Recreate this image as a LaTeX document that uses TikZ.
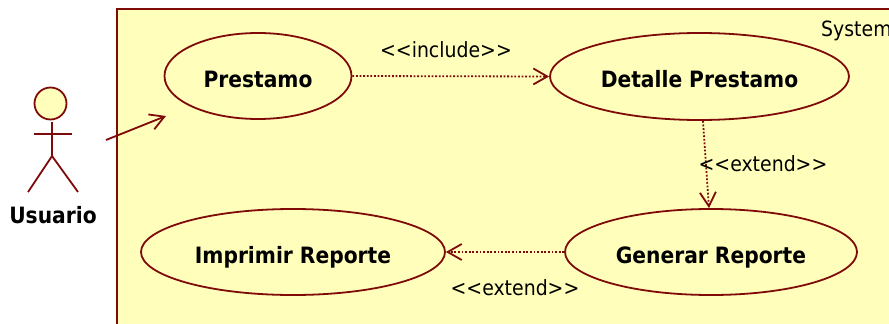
\documentclass[tikz,border=0pt]{standalone}
\usepackage{fontspec}
\setmainfont[Ligatures=NoCommon]{DejaVu Sans Condensed}
\usepackage{tikz}
\usetikzlibrary{arrows.meta,shapes.geometric}

\definecolor{umlred}{HTML}{7F0A0A}
\definecolor{umlfill}{HTML}{FFFFBB}

\tikzset{
    usecase/.style={ellipse, draw=umlred, fill=umlfill, line width=1.8pt, inner sep=0pt, text height=26pt, text depth=4pt, font=\fontsize{22.5}{24}\selectfont\bfseries},
    stereo/.style={font=\fontsize{21}{24}\selectfont, inner sep=0pt},
    actorline/.style={draw=umlred, line width=1.8pt},
    assoc/.style={draw=umlred, line width=1.8pt, -{Straight Barb[length=14pt,width=16pt]}},
    depend/.style={draw=umlred, line width=1.8pt, dash pattern=on 1.8pt off 1.8pt, -{Straight Barb[length=14pt,width=16pt,line width=1.8pt,sep=0pt]}}
}

\begin{document}
\begin{tikzpicture}[x=1pt,y=-1pt]
    \useasboundingbox (0,0) rectangle (889,324);

    % Draw the system box, it runs off the page
    \begin{scope}
        \clip (0,0) rectangle (889,324);
        \draw[actorline, fill=umlfill] (117,9) rectangle (900,340);
    \end{scope}
    \node[stereo, anchor=west] (system) at (821,31) {System};

    % Draw the use cases
    \node[usecase, minimum width=187pt, minimum height=86pt] (prestamo) at (258,76) {Prestamo};
    \node[usecase, minimum width=299pt, minimum height=87pt] (detalle) at (699.5,76.5) {Detalle Prestamo};
    \node[usecase, minimum width=304pt, minimum height=86pt] (imprimir) at (293,252) {Imprimir Reporte};
    \node[usecase, minimum width=292pt, minimum height=86pt] (generar) at (711,252) {Generar Reporte};

    % Draw the actor
    \node[circle, draw=umlred, fill=umlfill, line width=1.8pt, minimum size=32pt, inner sep=0pt] (head) at (50.5,103.5) {};
    \coordinate (hip) at (52,156);
    \draw[actorline] (52,122) -- (hip);
    \draw[actorline] (34,134) -- (72,134);
    \foreach \x in {28,78} {
        \draw[actorline] (hip) -- (\x,192);
    }
    \node[font=\fontsize{22.5}{24}\selectfont\bfseries, inner sep=0pt] (usuario) at (53,215) {Usuario};

    % Draw the connectors
    \coordinate (actorout) at (106,140);
    \coordinate (prestamoin) at (166,116);
    \draw[assoc] (actorout) -- (prestamoin);
    \draw[depend] (prestamo.east) -- (detalle.west);
    \draw[depend] ([xshift=3.5pt]detalle.south) -- ([xshift=-2pt]generar.north);
    \draw[depend] (generar.west) -- (imprimir.east);

    % Draw the stereotype labels
    \node[stereo] (includelabel) at (446,50) {<{}<include>{}>};
    \node[stereo] (extendlabel) at (763,164) {<{}<extend>{}>};
    \node[stereo] (extendlabeltwo) at (515,288) {<{}<extend>{}>};

\end{tikzpicture}
\end{document}
